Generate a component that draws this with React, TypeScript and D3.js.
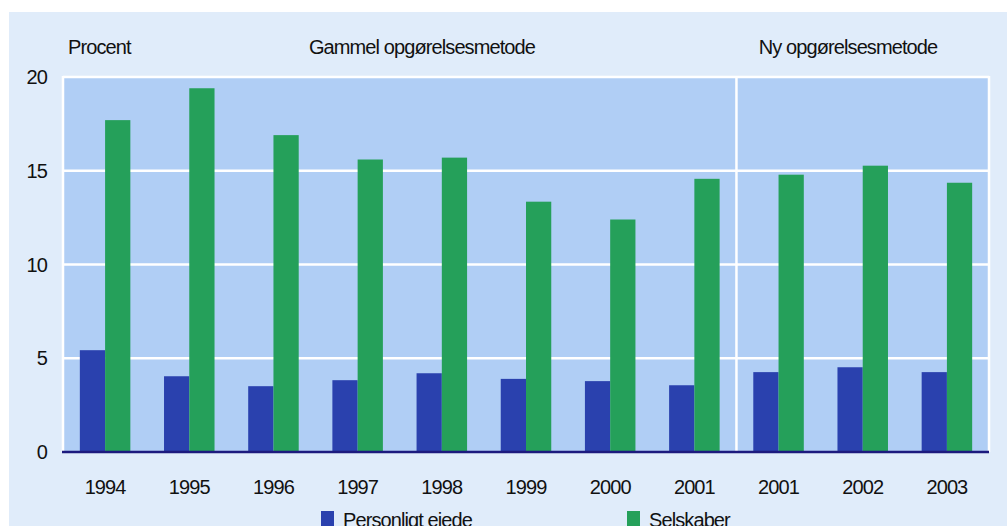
import React from "react";
import * as d3 from "d3";

const years = ["1994", "1995", "1996", "1997", "1998", "1999", "2000", "2001", "2001", "2002", "2003"];
const personligt = [5.43, 4.04, 3.51, 3.83, 4.2, 3.9, 3.78, 3.56, 4.26, 4.52, 4.26];
const selskaber = [17.7, 19.4, 16.9, 15.6, 15.7, 13.35, 12.4, 14.57, 14.79, 15.27, 14.36];
const yTicks = [0, 5, 10, 15, 20];
const seriesNames = ["Personligt ejede", "Selskaber"];
const colors = ["#2a41ae", "#25a05a"];

const W = 1007;
const H = 526;
const left = 63;
const right = 989;
const top = 77;
const bottom = 452;

export default function App() {
  const idx = years.map((_, i) => String(i));
  const x = d3.scaleBand<string>().domain(idx).range([left, right]).paddingInner(0.4).paddingOuter(0.2);
  const y = d3.scaleLinear().domain([0, 20]).range([bottom, top]);
  const inner = d3.scaleBand<string>().domain(["0", "1"]).range([0, x.bandwidth()]);
  const sepX = x.step() * 8 + left;
  const font = "'Liberation Sans', Arial, sans-serif";
  const ts = { fontFamily: font, fontSize: 20, letterSpacing: "-0.9px", fill: "#111" } as const;

  return (
    <svg width={W} height={H} style={{ position: "absolute", left: 0, top: 0, background: "#fff" }}>
      <rect x={9} y={12} width={W - 9} height={H - 12} fill="#e0ecfa" />
      <rect x={left} y={top} width={right - left} height={bottom - top} fill="#b0cef5" />
      {yTicks.filter((t) => t > 0).map((t) => (
        <line key={t} x1={left} x2={right} y1={y(t)} y2={y(t)} stroke="#fff" strokeWidth={2.5} />
      ))}
      <line x1={left} x2={left} y1={top - 1} y2={bottom} stroke="#fff" strokeWidth={2.5} />
      <line x1={right} x2={right} y1={top - 1} y2={bottom} stroke="#fff" strokeWidth={2.5} />
      <line x1={sepX} x2={sepX} y1={top - 1} y2={bottom} stroke="#fff" strokeWidth={2.5} />
      {years.map((yr, i) => (
        <g key={i} transform={`translate(${x(String(i))},0)`}>
          {[personligt[i], selskaber[i]].map((v, s) => (
            <rect
              key={s}
              x={inner(String(s))}
              y={y(v)}
              width={inner.bandwidth()}
              height={y(0) - y(v)}
              fill={colors[s]}
            />
          ))}
          <text x={x.bandwidth() / 2} y={494} textAnchor="middle" style={ts}>
            {yr}
          </text>
        </g>
      ))}
      <line x1={left - 1} x2={right} y1={bottom} y2={bottom} stroke="#1c1a7e" strokeWidth={2.5} />
      {yTicks.map((t) => (
        <text key={t} x={47} y={y(t) + 7} textAnchor="end" style={ts}>
          {t}
        </text>
      ))}
      <text x={68} y={54} style={ts}>Procent</text>
      <text x={422} y={54} textAnchor="middle" style={ts}>Gammel opgørelsesmetode</text>
      <text x={848} y={54} textAnchor="middle" style={ts}>Ny opgørelsesmetode</text>
      {seriesNames.map((n, s) => (
        <g key={n} transform={`translate(${s === 0 ? 321 : 627},0)`}>
          <rect x={0} y={511} width={13} height={16} fill={colors[s]} />
          <text x={22} y={527} style={ts}>{n}</text>
        </g>
      ))}
    </svg>
  );
}
